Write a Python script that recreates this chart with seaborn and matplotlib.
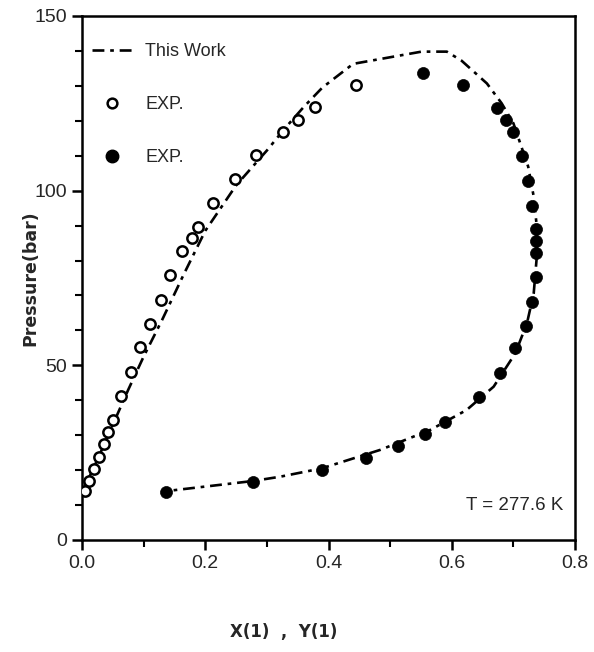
import matplotlib
matplotlib.use("Agg")
import matplotlib.pyplot as plt
import seaborn as sns
import pandas as pd
from matplotlib.lines import Line2D

# ---- data ----
liq_x = [0.005, 0.012, 0.019, 0.028, 0.036, 0.043, 0.051, 0.064, 0.080, 0.094,
         0.111, 0.128, 0.143, 0.163, 0.178, 0.189, 0.213, 0.248, 0.282, 0.326,
         0.351, 0.378, 0.445]
liq_p = [14.1, 17.0, 20.4, 23.8, 27.4, 30.8, 34.4, 41.3, 48.2, 55.3,
         61.8, 68.7, 75.9, 82.8, 86.4, 89.7, 96.4, 103.3, 110.2, 116.9,
         120.2, 123.9, 130.2]

vap_x = [0.137, 0.278, 0.389, 0.461, 0.513, 0.557, 0.589, 0.644, 0.679, 0.703,
         0.721, 0.731, 0.736, 0.737, 0.737, 0.737, 0.731, 0.724, 0.714, 0.699,
         0.688, 0.674, 0.618, 0.553]
vap_p = [13.8, 16.7, 20.0, 23.4, 27.0, 30.3, 33.9, 40.8, 47.9, 54.9,
         61.3, 68.2, 75.2, 82.1, 85.6, 89.0, 95.7, 102.9, 109.9, 116.9,
         120.2, 123.7, 130.2, 133.6]

calc_x = [0.000, 0.025, 0.050, 0.075, 0.100, 0.130, 0.165, 0.200, 0.250, 0.300,
          0.330, 0.360, 0.390, 0.440, 0.551, 0.592, 0.616, 0.657, 0.681, 0.700,
          0.724, 0.733, 0.738, 0.738, 0.733, 0.722, 0.703, 0.668, 0.624, 0.565,
          0.484, 0.389, 0.321, 0.278, 0.137]
calc_p = [13.5, 23.0, 33.0, 43.0, 52.5, 63.0, 76.0, 88.5, 101.5, 111.5,
          118.0, 124.0, 129.5, 136.3, 139.8, 139.8, 137.2, 130.7, 125.0, 119.3,
          106.9, 98.3, 89.7, 81.1, 70.6, 62.0, 53.4, 43.9, 37.2, 31.5,
          25.8, 20.5, 18.1, 16.9, 14.0]

x_ticks = [0.0, 0.2, 0.4, 0.6, 0.8]
y_ticks = [0, 50, 100, 150]

sns.set_style("ticks")
plt.rcParams["font.family"] = ["Liberation Sans", "DejaVu Sans"]

fig = plt.figure(figsize=(5.94, 6.52), dpi=100)
ax = fig.add_axes([82/594, 1-540/652, (575-82)/594, (540-16)/652])

df_calc = pd.DataFrame({"x": calc_x, "p": calc_p})
df_liq = pd.DataFrame({"x": liq_x, "p": liq_p})
df_vap = pd.DataFrame({"x": vap_x, "p": vap_p})

sns.lineplot(data=df_calc, x="x", y="p", sort=False, estimator=None,
             color="black", lw=1.9, ax=ax, legend=False)
ln = ax.lines[-1]
ln.set_dashes([4.5, 2.2, 1.4, 2.2])

sns.scatterplot(data=df_liq, x="x", y="p", ax=ax, s=55, marker="o",
                facecolor="white", edgecolor="black", linewidth=1.8, zorder=3, legend=False)
sns.scatterplot(data=df_vap, x="x", y="p", ax=ax, s=75, marker="o",
                color="black", edgecolor="black", linewidth=0.5, zorder=3, legend=False)

ax.set_xlim(0, 0.8)
ax.set_ylim(0, 150)
ax.set_xticks(x_ticks)
ax.set_xticklabels([f"{v:.1f}" for v in x_ticks])
ax.set_yticks(y_ticks)
ax.set_yticklabels([str(v) for v in y_ticks])
ax.set_xticks([0.1, 0.3, 0.5, 0.7], minor=True)
ax.set_yticks([10, 20, 30, 40, 60, 70, 80, 90, 110, 120, 130, 140], minor=True)
ax.tick_params(axis="both", which="major", direction="out", length=7, width=1.8,
               labelsize=14, color="black", pad=4)
ax.tick_params(axis="both", which="minor", direction="out", length=5, width=1.5,
               color="black")
for s in ax.spines.values():
    s.set_linewidth(1.8)
    s.set_color("black")

ax.set_xlabel("")
ax.set_ylabel("")
fig.text(30/594, 1-278/652, "Pressure(bar)", rotation=90, ha="center", va="center",
         fontsize=12.5, fontweight="bold", family=["DejaVu Sans"])
fig.text(284/594, 1-632/652, "X(1)  ,  Y(1)", ha="center", va="center",
         fontsize=12, fontweight="bold", family=["DejaVu Sans"])

ax.text(0.781, 10.0, "T = 277.6 K", ha="right", va="center", fontsize=13.5)

handles = [
    Line2D([], [], color="black", lw=1.9, dashes=[4.5, 2.2, 1.4, 2.2]),
    Line2D([], [], ls="none", marker="o", markersize=7, markerfacecolor="white",
           markeredgecolor="black", markeredgewidth=1.8),
    Line2D([], [], ls="none", marker="o", markersize=9, markerfacecolor="black",
           markeredgecolor="black"),
]
leg = ax.legend(handles, ["This Work", "EXP.", "EXP."], loc="upper left",
                bbox_to_anchor=(0.02, 0.948), frameon=False, fontsize=13,
                handlelength=2.2, handletextpad=0.75, labelspacing=2.0,
                borderpad=0, borderaxespad=0)

fig.savefig("out.png", dpi=100)
